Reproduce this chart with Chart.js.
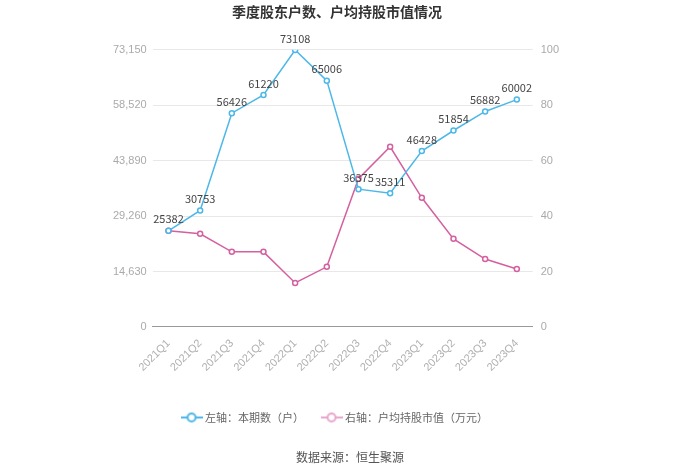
<!DOCTYPE html>
<html>
<head>
<meta charset="utf-8">
<script src="https://cdn.jsdelivr.net/npm/chart.js@4.4.0/dist/chart.umd.min.js"></script>
<style>
  html, body { margin: 0; padding: 0; background: #fff; }
  #wrap { width: 700px; height: 474px; position: relative; }
</style>
</head>
<body>
<div id="wrap"><canvas id="chart"></canvas></div>
<script>
const quarters = ['2021Q1', '2021Q2', '2021Q3', '2021Q4', '2022Q1', '2022Q2',
  '2022Q3', '2022Q4', '2023Q1', '2023Q2', '2023Q3', '2023Q4'];
const holders = [25382, 30753, 56426, 61220, 73108, 65006, 36375, 35311, 46428, 51854, 56882, 60002];
const avgValue = [34.7, 33.6, 27.1, 27.1, 15.9, 21.7, 53.5, 65.0, 46.6, 31.8, 24.5, 20.9];
const leftTicks = [0, 14630, 29260, 43890, 58520, 73150];
const rightTicks = [0, 20, 40, 60, 80, 100];

const blue = '#4db8e8';
const pink = '#d4609f';

// legend icon: short line with a hollow circle
function legendIcon(color) {
  const c = document.createElement('canvas');
  c.width = 22; c.height = 12;
  const g = c.getContext('2d');
  g.strokeStyle = color;
  g.lineWidth = 2;
  g.beginPath(); g.moveTo(0, 6); g.lineTo(22, 6); g.stroke();
  g.fillStyle = '#fff';
  g.beginPath(); g.arc(11, 6, 4, 0, Math.PI * 2); g.fill(); g.stroke();
  return c;
}

const valueLabels = {
  id: 'valueLabels',
  afterDatasetsDraw(chart) {
    const ctx = chart.ctx;
    const meta = chart.getDatasetMeta(0);
    ctx.save();
    ctx.font = '11px "Microsoft YaHei", "Noto Sans CJK SC", sans-serif';
    ctx.fillStyle = '#444';
    ctx.textAlign = 'center';
    ctx.textBaseline = 'bottom';
    meta.data.forEach((pt, i) => {
      ctx.fillText(String(holders[i]), pt.x, pt.y - 6);
    });
    ctx.restore();
  }
};

const sourceText = {
  id: 'sourceText',
  afterDraw(chart) {
    const ctx = chart.ctx;
    ctx.save();
    ctx.font = '12px "Noto Sans CJK SC", sans-serif';
    ctx.fillStyle = '#555';
    ctx.textAlign = 'center';
    ctx.textBaseline = 'middle';
    ctx.fillText('数据来源：恒生聚源', 350, 457);
    ctx.restore();
  }
};

new Chart(document.getElementById('chart'), {
  type: 'line',
  data: {
    labels: quarters,
    datasets: [
      {
        label: '左轴：本期数（户）',
        data: holders,
        yAxisID: 'y',
        borderColor: blue,
        borderWidth: 1.5,
        pointRadius: 2.5,
        pointBorderWidth: 1.5,
        pointBackgroundColor: '#fff',
        pointBorderColor: blue,
        tension: 0
      },
      {
        label: '右轴：户均持股市值（万元）',
        data: avgValue,
        yAxisID: 'y1',
        borderColor: pink,
        borderWidth: 1.5,
        pointRadius: 2.5,
        pointBorderWidth: 1.5,
        pointBackgroundColor: '#fff',
        pointBorderColor: pink,
        tension: 0
      }
    ]
  },
  options: {
    responsive: true,
    maintainAspectRatio: false,
    animation: false,
    layout: { padding: { left: 107, right: 133, top: 0, bottom: 41 } },
    plugins: {
      title: {
        display: true,
        text: '季度股东户数、户均持股市值情况',
        color: '#333',
        font: { size: 14, weight: 'bold', family: '"Noto Sans CJK SC", sans-serif' },
        padding: { top: 3, bottom: 30 }
      },
      legend: {
        position: 'bottom',
        labels: {
          usePointStyle: true,
          color: '#666',
          font: { size: 11, family: '"Noto Sans CJK SC", sans-serif' },
          padding: 22,
          generateLabels(chart) {
            return chart.data.datasets.map((ds, i) => ({
              text: ' ' + ds.label,
              fontColor: '#666',
              pointStyle: legendIcon(i === 0 ? blue : '#e8a6cc'),
              datasetIndex: i,
              hidden: false,
              lineWidth: 0,
              strokeStyle: 'transparent',
              fillStyle: 'transparent'
            }));
          }
        }
      },
      tooltip: { enabled: false }
    },
    scales: {
      x: {
        offset: true,
        grid: { display: false, drawTicks: true },
        border: { color: '#999' },
        afterFit(axis) { axis.height += 14; },
        ticks: {
          color: '#b0b0b0',
          font: { size: 11 },
          maxRotation: 45,
          minRotation: 45,
          padding: 2
        }
      },
      y: {
        position: 'left',
        min: 0,
        max: 73150,
        afterBuildTicks(axis) { axis.ticks = leftTicks.map(v => ({ value: v })); },
        grid: { color: '#e8e8e8', drawTicks: false },
        border: { display: false },
        ticks: {
          color: '#aaa',
          font: { size: 11 },
          padding: 6,
          callback: v => v.toLocaleString('en-US')
        }
      },
      y1: {
        position: 'right',
        min: 0,
        max: 100,
        afterBuildTicks(axis) { axis.ticks = rightTicks.map(v => ({ value: v })); },
        grid: { display: false, drawTicks: false },
        border: { display: false },
        ticks: { color: '#aaa', font: { size: 11 }, padding: 8 }
      }
    }
  },
  plugins: [valueLabels, sourceText]
});
</script>
</body>
</html>
